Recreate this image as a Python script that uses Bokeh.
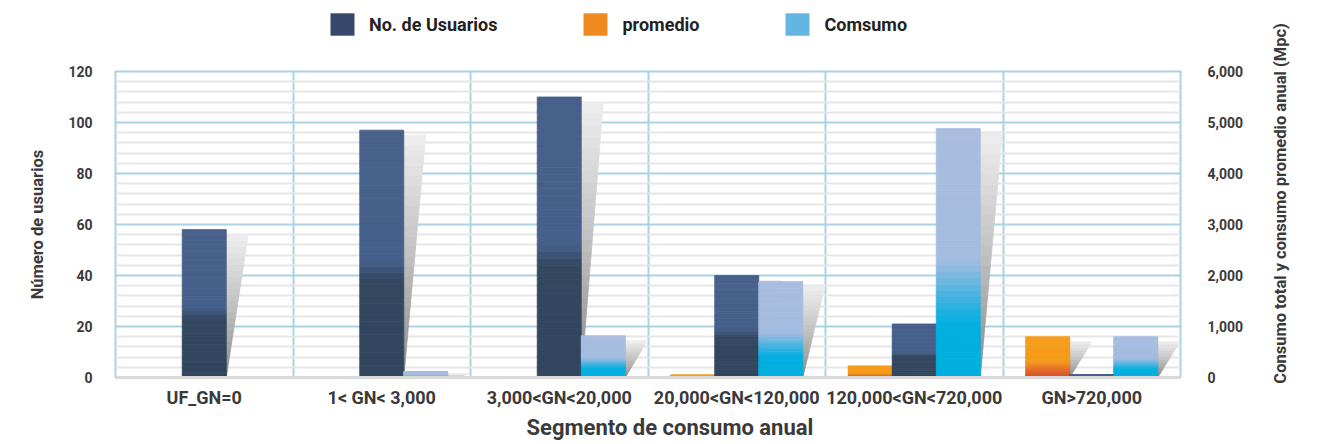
import math
from bokeh.plotting import figure
from bokeh.layouts import column, row
from bokeh.models import (Range1d, LinearAxis, FixedTicker, NumeralTickFormatter,
                          Legend, LegendItem, ColumnDataSource, Title)
from bokeh.core.properties import value
from bokeh.embed import file_html
from bokeh.resources import INLINE

# ---------------- data ----------------
categories = ["UF_GN=0", "1< GN< 3,000", "3,000<GN<20,000", "20,000<GN<120,000",
              "120,000<GN<720,000", "GN>720,000"]
usuarios = [58, 97, 110, 40, 21, 1]          # left axis
promedio = [0, 1, 8, 45, 225, 800]           # right axis (Mpc)
consumo = [0, 115, 820, 1880, 4880, 800]     # right axis (Mpc)
left_ticks = [0, 20, 40, 60, 80, 100, 120]
right_ticks = [0, 1000, 2000, 3000, 4000, 5000, 6000]
series_names = ["No. de Usuarios", "promedio", "Comsumo"]
x_title = "Segmento de consumo anual"
left_title = "Número de usuarios"
right_title = "Consumo total y consumo promedio anual (Mpc)"

# ---------------- style ----------------
FONT = "Roboto"
TXT = "#3a3a3a"
GRID_BLUE = "#a9d3e3"
BW = 0.248          # bar width (category units)
SW = 0.124          # shadow width
NB = 40             # gradient bands per bar
NAN = float("nan")

dark_stops = [(0, "#31455f"), (0.40, "#33475f"), (0.47, "#45608a"), (1, "#47618a")]
orange_stops = [(0, "#d2442a"), (0.15, "#e0622a"), (0.42, "#f59c1c"), (1, "#f69d1c")]
light_stops = [(0, "#00afdf"), (0.22, "#02afdf"), (0.34, "#4cb3e1"),
               (0.47, "#a3bce0"), (1, "#a8bde0")]
shadow_stops = [(0, "#8a8a8a"), (0.5, "#c0c0c0"), (1, "#eeeeee")]


def hex2rgb(h):
    return tuple(int(h[i:i + 2], 16) for i in (1, 3, 5))


def interp(stops, f):
    for (f0, c0), (f1, c1) in zip(stops[:-1], stops[1:]):
        if f <= f1:
            t = 0 if f1 == f0 else (f - f0) / (f1 - f0)
            a, b = hex2rgb(c0), hex2rgb(c1)
            return "#%02x%02x%02x" % tuple(round(a[k] + (b[k] - a[k]) * t) for k in range(3))
    return stops[-1][1]


def bar_bands(values, offset, stops):
    L, R, B, T, C = [], [], [], [], []
    for i, v in enumerate(values):
        if v <= 0:
            continue
        cx = i + 0.5 + offset
        for k in range(NB):
            f0, f1 = k / NB, (k + 1) / NB
            L.append(cx - BW / 2)
            R.append(cx + BW / 2)
            B.append(v * f0)
            T.append(v * f1)
            C.append(interp(stops, (f0 + f1) / 2))
    return ColumnDataSource(dict(left=L, right=R, bottom=B, top=T, color=C))


def shadow_bands(values, offset, drop):
    xs, ys, C = [], [], []
    for i, v in enumerate(values):
        if v <= 0:
            continue
        xr = i + 0.5 + offset + BW / 2
        top = max(v - drop, v * 0.6)
        n = 24
        for k in range(n):
            y0, y1 = top * k / n, top * (k + 1) / n
            xs.append([xr, xr + SW * y0 / top, xr + SW * y1 / top, xr])
            ys.append([y0, y0, y1, y1])
            C.append(interp(shadow_stops, (k + 0.5) / n))
    return ColumnDataSource(dict(xs=xs, ys=ys, color=C))


MAIN_W = 1265
LEG_H = 40
FRAME_LEFT = 115

# ================= legend strip =================
leg = figure(width=MAIN_W, height=LEG_H, output_backend="svg", toolbar_location=None,
             x_range=Range1d(0, 1), y_range=Range1d(0, 1), min_border=0,
             x_axis_location=None, y_axis_location=None, outline_line_color=None)
leg.grid.visible = False
leg_colors = ["#36496b", "#ee8a20", "#62b6e1"]
leg_r = [leg.quad(left=[NAN], right=[NAN], bottom=[NAN], top=[NAN], fill_color=c,
                  line_color=None) for c in leg_colors]
legend = Legend(items=[LegendItem(label=n, renderers=[r]) for n, r in zip(series_names, leg_r)],
                orientation="horizontal", location=(327 - FRAME_LEFT, 2), padding=0, margin=0,
                spacing=83, glyph_width=30, glyph_height=28, label_standoff=12,
                border_line_color=None, background_fill_alpha=0,
                label_text_font=FONT, label_text_font_style="bold",
                label_text_font_size="18px", label_text_color="#222222")
leg.add_layout(legend, "center")

# ================= main chart =================
p = figure(width=MAIN_W, height=444 - LEG_H, output_backend="svg", toolbar_location=None,
           x_range=Range1d(0, len(categories)), y_range=Range1d(0, 120),
           min_border_left=FRAME_LEFT, min_border_right=MAIN_W - 1180,
           min_border_top=71 - LEG_H, min_border_bottom=67,
           outline_line_color=GRID_BLUE, outline_line_width=2)
p.extra_y_ranges = {"mpc": Range1d(0, 6000)}

# ---- shadows ----
for vals, off, rng, drop in [(usuarios, 0, "default", 2),
                             (promedio, -BW, "mpc", 100),
                             (consumo, BW, "mpc", 100)]:
    p.patches("xs", "ys", source=shadow_bands(vals, off, drop), fill_color="color",
              line_color="color", line_width=0.8, y_range_name=rng)

# ---- bars ----
p.quad(left="left", right="right", bottom="bottom", top="top",
       source=bar_bands(promedio, -BW, orange_stops), fill_color="color",
       line_color="color", line_width=0.8, y_range_name="mpc")
p.quad(left="left", right="right", bottom="bottom", top="top",
       source=bar_bands(usuarios, 0, dark_stops), fill_color="color",
       line_color="color", line_width=0.8)
p.quad(left="left", right="right", bottom="bottom", top="top",
       source=bar_bands(consumo, BW, light_stops), fill_color="color",
       line_color="color", line_width=0.8, y_range_name="mpc")

# ---- grids ----
p.ygrid.ticker = FixedTicker(ticks=left_ticks,
                             minor_ticks=[t for t in range(0, 121, 4) if t % 20])
p.ygrid.grid_line_color = GRID_BLUE
p.ygrid.grid_line_width = 2
p.ygrid.minor_grid_line_color = "#e6e6e6"
p.ygrid.minor_grid_line_width = 2
p.xgrid.ticker = FixedTicker(ticks=list(range(len(categories) + 1)))
p.xgrid.grid_line_color = GRID_BLUE
p.xgrid.grid_line_width = 2

# ---- axes ----
xa = p.xaxis[0]
xa.ticker = FixedTicker(ticks=[i + 0.5 for i in range(len(categories))])
xa.major_label_overrides = {i + 0.5: c for i, c in enumerate(categories)}

ya = p.yaxis[0]
ya.ticker = FixedTicker(ticks=left_ticks)
ya.axis_label = left_title

yr = LinearAxis(y_range_name="mpc", ticker=FixedTicker(ticks=right_ticks),
                formatter=NumeralTickFormatter(format="0,0"))
p.add_layout(yr, "right")

for ax in [xa, ya, yr]:
    ax.major_tick_line_color = None
    ax.minor_tick_line_color = None
    ax.major_label_text_font = FONT
    ax.major_label_text_font_style = "bold"
    ax.major_label_text_color = TXT
    ax.axis_label_text_font = FONT
    ax.axis_label_text_color = TXT
    ax.axis_label_text_font_style = "bold"

xa.axis_line_color = "#d9d9d9"
xa.axis_line_width = 3
xa.major_label_text_font_size = "18px"
xa.major_label_standoff = 3

for ax in [ya, yr]:
    ax.axis_line_color = None
    ax.major_label_text_font_size = "14px"
ya.axis_label_text_font_size = "16.5px"
ya.major_label_standoff = 17
ya.axis_label_standoff = 18
yr.major_label_standoff = 21

# x-axis title (below the tick labels, slightly right of the frame centre)
p.add_layout(Title(text=x_title, align="left", offset=411, vertical_align="bottom",
                   text_font=FONT, text_font_size="22px", text_font_style="bold",
                   text_color=TXT, standoff=5), "below")

# ================= right-hand axis title (reads bottom-to-top) =================
rt = figure(width=30, height=444, output_backend="svg", toolbar_location=None,
            x_range=Range1d(0, 1), y_range=Range1d(0, 1), min_border=0,
            x_axis_location=None, y_axis_location=None, outline_line_color=None)
rt.grid.visible = False
rt.text(x=[0.5], y=[0.543], text=[right_title], angle=math.pi / 2,
        text_align="center", text_baseline="middle", text_font=value(FONT),
        text_font_style="bold", text_font_size="16.5px", text_color=TXT)

layout = row(column(leg, p, spacing=0), rt, spacing=0)
open("out.html", "w").write(file_html(layout, INLINE))
